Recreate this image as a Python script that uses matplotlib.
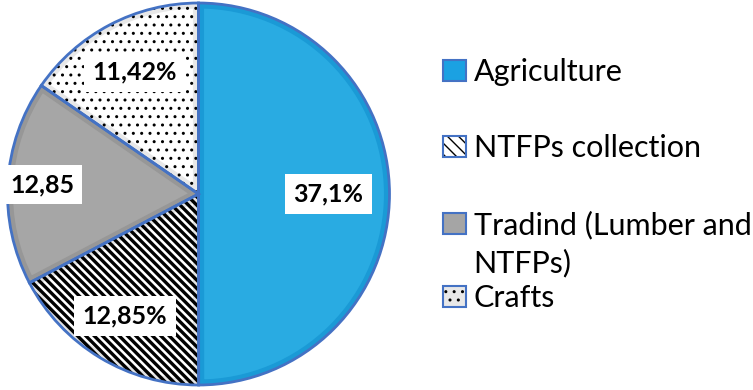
import matplotlib
matplotlib.use("Agg")
import matplotlib.pyplot as plt
from matplotlib.patches import Patch
from matplotlib.font_manager import FontProperties
import numpy as np

# data
categories = ["Agriculture", "NTFPs collection", "Tradind (Lumber and\nNTFPs)", "Crafts"]
values = [37.1, 12.85, 12.85, 11.42]
value_labels = ["37,1%", "12,85%", "12,85", "11,42%"]

# styles
fill_colors = ["#29ABE2", "#FFFFFF", "#A6A6A6", "#FFFFFF"]
band_colors = ["#1A9AD6", "#E3E3E3", "#979797", "#E8E8E8"]
hatches = [None, "\\\\\\\\", None, ".."]
hatch_lw = [None, 2.4, None, 1.0]
label_dist = [0.68, 0.745, 0.82, 0.72]
outline = "#4472C4"


def thin_hatch(patch, lw):
    # draw a patch with its own hatch line width
    if hasattr(patch, "set_hatch_linewidth"):
        patch.set_hatch_linewidth(lw)
    _draw = patch.draw

    def draw(renderer):
        with plt.rc_context({"hatch.linewidth": lw}):
            _draw(renderer)
    patch.draw = draw


W, H = 753, 390
fig = plt.figure(figsize=(W / 100, H / 100), dpi=100)
R = 191
cx, cy = 198.5, 194
ax = fig.add_axes([(cx - R) / W, (H - cy - R) / H, 2 * R / W, 2 * R / H])

# base fill with darker inner band
wedges, _ = ax.pie(values, startangle=90, counterclock=False, colors=fill_colors,
                   wedgeprops=dict(linewidth=0))
for w, bc in zip(wedges, band_colors):
    w.set_edgecolor(bc)
    w.set_linewidth(8)
    w.set_clip_on(True)
    w.set_clip_path(w)
    w.set_zorder(1)

# hatch layer
hw, _ = ax.pie(values, startangle=90, counterclock=False,
               colors=["none"] * len(values), wedgeprops=dict(linewidth=0))
for w, h, lw in zip(hw, hatches, hatch_lw):
    if h:
        w.set_edgecolor("black")
        w.set_hatch(h)
        w.set_zorder(2)
        thin_hatch(w, lw)
    else:
        w.set_visible(False)

# blue outline
ow, _ = ax.pie(values, startangle=90, counterclock=False,
               colors=["none"] * len(values),
               wedgeprops=dict(edgecolor=outline, linewidth=2.0))
for w in ow:
    w.set_clip_on(False)
    w.set_zorder(3)

ax.set_xlim(-1, 1)
ax.set_ylim(-1, 1)

for w, lab, d in zip(wedges, value_labels, label_dist):
    ang = np.deg2rad((w.theta1 + w.theta2) / 2)
    ax.text(d * np.cos(ang), d * np.sin(ang), lab, ha="center", va="center",
            fontsize=18, fontweight="bold", family="Lato", zorder=6,
            bbox=dict(boxstyle="square,pad=0.33", fc="white", ec="none"))

# legend
font = FontProperties(family="Lato", size=22)
h_agri = Patch(fc="#1BA1E2", ec=outline, lw=1.5)
h_ntfp_fill = Patch(fc="white", ec="black", hatch="\\\\\\", lw=0)
thin_hatch(h_ntfp_fill, 3.5)
h_ntfp = (h_ntfp_fill, Patch(fc="none", ec=outline, lw=1.5))
h_trad = Patch(fc="#A5A5A5", ec=outline, lw=1.5)
h_craft_fill = Patch(fc="#E8E8E8", ec="black", hatch="..", lw=0)
thin_hatch(h_craft_fill, 1.0)
h_craft = (h_craft_fill, Patch(fc="none", ec=outline, lw=1.5))
blank = Patch(fc="none", ec="none")

trad_1, trad_2 = categories[2].split("\n")
common = dict(loc="upper left", frameon=False, prop=font, handlelength=0.75,
              handleheight=0.7, handletextpad=0.25, borderpad=0, borderaxespad=0)
fig.legend([h_agri, h_ntfp, h_trad], [categories[0], categories[1], trad_1],
           bbox_to_anchor=(443 / W, 1 - 58 / H), labelspacing=1.58, **common)
fig.legend([blank, h_craft], [trad_2, categories[3]],
           bbox_to_anchor=(443 / W, 1 - 249 / H), labelspacing=0.22, **common)

fig.savefig("out.png", dpi=100)
